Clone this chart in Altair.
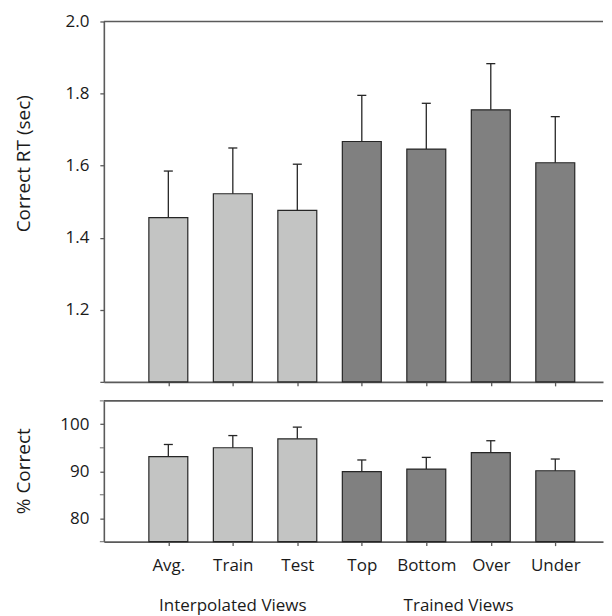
import altair as alt
import pandas as pd

conditions = ["Avg.", "Train", "Test", "Top", "Bottom", "Over", "Under"]
groups = ["Interpolated Views"] * 3 + ["Trained Views"] * 4
positions = [1, 2, 3, 4, 5, 6, 7]
rt_mean = [1.456, 1.522, 1.476, 1.667, 1.646, 1.755, 1.608]
rt_err = [0.129, 0.127, 0.128, 0.128, 0.127, 0.128, 0.128]
pct_mean = [93.1, 95.0, 96.9, 89.9, 90.45, 93.95, 90.1]
pct_err = [2.6, 2.6, 2.5, 2.5, 2.5, 2.55, 2.5]

rt_ticks = [1.0, 1.2, 1.4, 1.6, 1.8, 2.0]
pct_labeled = [80.0, 90.0, 100.0]
pct_minor = [75.0, 85.0, 95.0, 105.0]
rt_domain = [1.0, 2.0]
pct_domain = [75.0, 105.0]
x_domain = [0, 7.74]

light = "#c3c4c3"
dark = "#808080"
edge = "#262626"
axis_col = "#5a5a5a"
font = "Open Sans"

df = pd.DataFrame({
    "pos": positions, "cond": conditions, "group": groups,
    "rt": rt_mean, "rt_err": rt_err, "pct": pct_mean, "pct_err": pct_err,
})
df["rt_hi"] = df["rt"] + df["rt_err"]
df["pct_hi"] = df["pct"] + df["pct_err"]
df["cap_l"] = df["pos"] - 0.07
df["cap_r"] = df["pos"] + 0.07
df["rt_base"] = rt_domain[0]
df["pct_base"] = pct_domain[0]

grp = df.groupby("group", sort=False)["pos"].mean().reset_index()
grp.columns = ["group", "center"]

color = alt.Color("group:N", scale=alt.Scale(domain=["Interpolated Views", "Trained Views"],
                                            range=[light, dark]), legend=None)

label_js = "[" + ",".join("'" + c + "'" for c in conditions) + "][datum.value - 1]"

def xaxis(show_labels):
    kw = dict(values=positions, tickSize=4, tickColor=axis_col, domainColor=axis_col,
              domainWidth=1.6, tickWidth=1.3, grid=False, title=None)
    if show_labels:
        kw.update(labelExpr=label_js, labelPadding=12, labelFontSize=17)
    else:
        kw.update(labels=False)
    return alt.Axis(**kw)

xs = alt.Scale(domain=x_domain, nice=False, zero=False, padding=0)

def panel(val, hi, base, dom, ticks, minor, label_expr, fmt, title, title_y, height, show_labels):
    ys = alt.Scale(domain=dom, nice=False, zero=False, padding=0)
    akw = dict(values=ticks, format=fmt, tickSize=4, labelPadding=11,
               labelFontSize=17, tickColor=axis_col, domainColor=axis_col,
               domainWidth=1.6, tickWidth=1.3, grid=False, title=title,
               labelOverlap=False,
               titleX=-80, titleY=title_y, titleAngle=270, titleAlign="center",
               titleBaseline="middle", titleFontSize=19, titleFontWeight="normal")
    if label_expr:
        akw["labelExpr"] = label_expr
    yaxis = alt.Axis(**akw)
    base_c = alt.Chart(df)
    bars = base_c.mark_bar(size=39, stroke=edge, strokeWidth=1.2).encode(
        x=alt.X("pos:Q", scale=xs, axis=xaxis(show_labels)),
        y=alt.Y(val + ":Q", scale=ys, axis=yaxis),
        y2=alt.Y2(base + ":Q"),
        color=color,
    )
    err = base_c.mark_rule(color=edge, strokeWidth=1.3).encode(
        x="pos:Q", y=val + ":Q", y2=hi + ":Q")
    caps = base_c.mark_rule(color=edge, strokeWidth=1.3).encode(
        x="cap_l:Q", x2="cap_r:Q", y=hi + ":Q")
    frame = alt.Chart(pd.DataFrame({"v": [dom[1]]})).mark_rule(
        color=axis_col, strokeWidth=1.6).encode(y="v:Q")
    layers = [bars, err, caps, frame]
    if minor:
        mt = alt.Chart(pd.DataFrame({"m": minor})).mark_tick(
            orient="horizontal", size=4, thickness=1.3, color=axis_col, xOffset=-2
        ).encode(y="m:Q", x=alt.value(0))
        layers.append(mt)
    if show_labels:
        txt = alt.Chart(grp).mark_text(fontSize=17, font=font, baseline="alphabetic",
                                       color="#1a1a1a").encode(
            x="center:Q", y=alt.value(211), text="group:N")
        layers.append(txt)
    return alt.layer(*layers).properties(width=500, height=height)

top = panel("rt", "rt_hi", "rt_base", rt_domain, rt_ticks, None,
            "datum.value == 1 ? '' : datum.label", ".1f",
            "Correct RT (sec)", 142, 361, False)
bottom = panel("pct", "pct_hi", "pct_base", pct_domain, pct_labeled, pct_minor,
               None, ".0f",
               "% Correct", 70, 141, True)

chart = alt.vconcat(top, bottom, spacing=19, bounds="flush").properties(
    padding={"left": 7, "top": 4, "right": 0, "bottom": 0}
).configure_view(stroke=None).configure_axis(
    labelFont=font, titleFont=font, labelColor="#1a1a1a", titleColor="#1a1a1a"
).configure_text(font=font)

chart.save("out.html", embed_options={"renderer": "svg", "actions": False})
